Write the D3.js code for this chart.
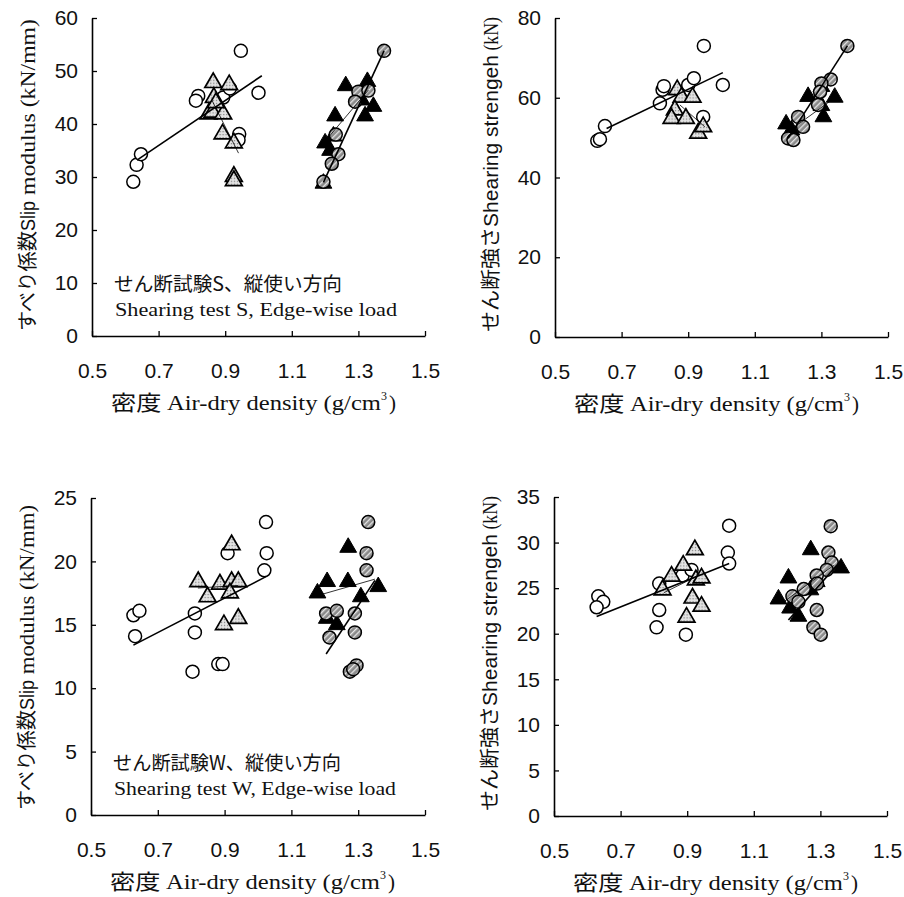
<!DOCTYPE html>
<html>
<head>
<meta charset="utf-8">
<script src="https://cdn.jsdelivr.net/npm/d3@7"></script>
<style>
  body { margin: 0; background: #fff; }
  svg { display: block; }
</style>
</head>
<body>
<div id="chart"></div>
<script>
// ---- data (density g/cm3, value) ----
var xTicks = [0.5, 0.7, 0.9, 1.1, 1.3, 1.5];

// panel A: slip modulus, shearing test S
var aOpenCircle = [[0.624,29.1],[0.634,32.3],[0.647,34.3],[0.819,45.3],[0.812,44.4],[0.894,45.0],[0.914,46.7],[0.947,53.8],[1.0,45.9],[0.942,38.1],[0.94,37.0]];
var aOpenTri = [[0.864,47.8],[0.912,47.4],[0.866,45.0],[0.85,41.9],[0.862,42.2],[0.894,41.9],[0.872,44.0],[0.892,38.1],[0.926,36.4],[0.926,30.1],[0.926,29.3]];
var aBlackTri = [[1.262,47.2],[1.327,48.0],[1.23,41.5],[1.225,37.7],[1.2,36.4],[1.32,41.5],[1.345,43.3],[1.31,44.5],[1.195,28.8],[1.215,35.0]];
var aHatchCircle = [[1.377,53.8],[1.30,46.1],[1.29,44.2],[1.33,46.3],[1.24,34.3],[1.22,32.5],[1.195,29.1],[1.232,38.0]];
var aLines = [
  {pts: [[0.635,33.2],[1.01,49.1]], w: 1.6},
  {pts: [[0.86,44.5],[0.94,34.5]], w: 0.8},
  {pts: [[1.195,29.0],[1.377,53.8]], w: 1.6},
  {pts: [[1.19,36.0],[1.33,46.4]], w: 0.8}
];

// panel B: shearing strength, shearing test S
var bOpenCircle = [[0.947,73.0],[0.627,49.2],[0.635,49.6],[0.65,52.9],[0.823,62.0],[0.827,62.9],[0.815,58.6],[0.9,63.2],[0.917,64.9],[1.004,63.2],[0.945,55.2]];
var bOpenTri = [[0.867,62.0],[0.88,60.1],[0.913,60.1],[0.86,56.9],[0.85,54.8],[0.893,54.8],[0.93,51.1],[0.945,52.7]];
var bBlackTri = [[1.26,60.3],[1.30,62.8],[1.34,60.1],[1.306,55.2],[1.194,53.4],[1.21,51.9],[1.30,58.0]];
var bHatchCircle = [[1.378,73.0],[1.328,64.6],[1.30,63.6],[1.296,61.5],[1.29,58.2],[1.23,55.2],[1.245,52.7],[1.20,49.8],[1.216,49.4]];
var bLines = [
  {pts: [[0.655,52.3],[1.004,66.3]], w: 1.6},
  {pts: [[0.875,58.2],[0.95,52.7]], w: 0.8},
  {pts: [[1.20,49.8],[1.378,73.0]], w: 1.6},
  {pts: [[1.20,51.5],[1.34,60.0]], w: 0.8}
];

// panel C: slip modulus, shearing test W
var cOpenCircle = [[1.024,23.1],[1.026,20.65],[1.019,19.3],[0.909,20.65],[0.811,15.9],[0.627,15.75],[0.645,16.1],[0.632,14.1],[0.811,14.4],[0.804,11.3],[0.881,11.9],[0.894,11.9]];
var cOpenTri = [[0.921,21.3],[0.821,18.4],[0.886,18.2],[0.921,18.4],[0.941,18.4],[0.849,17.2],[0.916,17.5],[0.898,15.0],[0.941,15.5]];
var cBlackTri = [[1.27,21.1],[1.207,18.4],[1.269,18.4],[1.36,18.0],[1.178,17.5],[1.308,17.2],[1.206,15.5],[1.236,15.0]];
var cHatchCircle = [[1.33,23.1],[1.325,20.65],[1.325,19.3],[1.204,15.9],[1.236,16.1],[1.29,15.9],[1.29,14.4],[1.214,14.0],[1.275,11.3],[1.295,11.8],[1.285,11.5]];
var cLines = [
  {pts: [[0.627,13.4],[1.024,18.8]], w: 1.6},
  {pts: [[0.82,17.9],[0.94,18.1]], w: 0.8},
  {pts: [[1.178,17.3],[1.35,18.6]], w: 0.8},
  {pts: [[1.204,12.7],[1.35,18.5]], w: 1.6}
];

// panel D: shearing strength, shearing test W
var dOpenCircle = [[1.026,31.85],[1.022,28.9],[1.026,27.7],[0.633,24.1],[0.648,23.5],[0.628,22.9],[0.816,25.5],[0.886,26.4],[0.913,27.0],[0.816,22.6],[0.808,20.7],[0.896,19.9]];
var dOpenTri = [[0.923,29.2],[0.888,27.5],[0.853,26.3],[0.926,25.9],[0.943,26.1],[0.826,24.8],[0.916,23.9],[0.943,23.0],[0.898,21.8]];
var dBlackTri = [[1.271,29.2],[1.204,26.1],[1.362,27.2],[1.174,23.8],[1.234,21.9],[1.289,25.7],[1.27,24.8],[1.209,22.8]];
var dHatchCircle = [[1.331,31.8],[1.324,28.9],[1.334,27.8],[1.319,27.0],[1.289,26.4],[1.216,24.1],[1.234,23.5],[1.289,22.6],[1.279,20.7],[1.301,19.9],[1.29,25.5],[1.25,24.9]];
var dLines = [
  {pts: [[0.628,21.9],[1.026,27.7]], w: 1.6},
  {pts: [[0.83,24.5],[0.94,26.5]], w: 0.8},
  {pts: [[1.204,21.5],[1.364,28.1]], w: 1.6},
  {pts: [[1.19,23.5],[1.34,27.5]], w: 0.8}
];

var panels = [
  {x0: 92, x1: 425, yTop: 18, yBot: 336, yTicks: [0,10,20,30,40,50,60], yMax: 60,
   yLabel: [["すべり係数", "ja", 100], ["Slip", "sans", 30], [" modulus (kN/mm)", "serif", 182]],
   note: ["せん断試験S、縦使い方向", "Shearing test S, Edge-wise load"],
   open: aOpenCircle, tri: aOpenTri, black: aBlackTri, hatch: aHatchCircle, lines: aLines},
  {x0: 555, x1: 888, yTop: 18, yBot: 337, yTicks: [0,20,40,60,80], yMax: 80,
   yLabel: [["せん断強さ", "ja", 105], ["Shearing strengeh", "sans", 172], [" (kN)", "serif", 38]],
   note: null,
   open: bOpenCircle, tri: bOpenTri, black: bBlackTri, hatch: bHatchCircle, lines: bLines},
  {x0: 91, x1: 425, yTop: 498, yBot: 815, yTicks: [0,5,10,15,20,25], yMax: 25,
   yLabel: [["すべり係数", "ja", 100], ["Slip", "sans", 30], [" modulus (kN/mm)", "serif", 175]],
   note: ["せん断試験W、縦使い方向", "Shearing test W, Edge-wise load"],
   open: cOpenCircle, tri: cOpenTri, black: cBlackTri, hatch: cHatchCircle, lines: cLines},
  {x0: 554, x1: 887, yTop: 497, yBot: 816, yTicks: [0,5,10,15,20,25,30,35], yMax: 35,
   yLabel: [["せん断強さ", "ja", 105], ["Shearing strengeh", "sans", 172], [" (kN)", "serif", 38]],
   note: null,
   open: dOpenCircle, tri: dOpenTri, black: dBlackTri, hatch: dHatchCircle, lines: dLines}
];

var fonts = {
  sans: "'Liberation Sans', Arial, sans-serif",
  serif: "'Liberation Serif', 'Noto Sans CJK JP', serif",
  ja: "'Noto Sans CJK JP', sans-serif"
};

var svg = d3.select("#chart").append("svg")
    .attr("width", 904)
    .attr("height", 897);

svg.append("rect").attr("width", 904).attr("height", 897).attr("fill", "#fff");

// fills for the gray triangles and hatched circles
var defs = svg.append("defs");
var stip = defs.append("pattern")
    .attr("id", "stipple")
    .attr("patternUnits", "userSpaceOnUse")
    .attr("width", 3).attr("height", 3);
stip.append("rect").attr("width", 3).attr("height", 3).attr("fill", "#e4e4e4");
stip.append("rect").attr("width", 1.2).attr("height", 1.2).attr("fill", "#7a7a7a");

var hatch = defs.append("pattern")
    .attr("id", "hatch")
    .attr("patternUnits", "userSpaceOnUse")
    .attr("width", 4).attr("height", 4)
    .attr("patternTransform", "rotate(45)");
hatch.append("rect").attr("width", 4).attr("height", 4).attr("fill", "#8a8a8a");
hatch.append("rect").attr("width", 1.3).attr("height", 4).attr("fill", "#e6e6e6");

var triPath = d3.symbol().type(d3.symbolTriangle).size(122)();

// place text pieces one after another, each squeezed/stretched to a target length
function runText(parent, pieces, size) {
  var t = parent.append("text").attr("font-size", size).attr("fill", "#111");
  var pos = 0;
  pieces.forEach(function(pc) {
    var s = t.append("tspan")
      .attr("font-family", fonts[pc[1]])
      .attr("x", pos)
      .text(pc[0]);
    if (pc[2]) s.attr("textLength", pc[2]).attr("lengthAdjust", "spacingAndGlyphs");
    pos += pc[2] || s.node().getComputedTextLength();
  });
  return t;
}

panels.forEach(function(p) {
  var x = d3.scaleLinear().domain([0.5, 1.5]).range([p.x0, p.x1]);
  var y = d3.scaleLinear().domain([0, p.yMax]).range([p.yBot, p.yTop]);

  var g = svg.append("g");

  var yAxis = d3.axisLeft(y)
    .tickValues(p.yTicks)
    .tickFormat(d3.format("d"))
    .tickSizeInner(-5)
    .tickSizeOuter(0)
    .tickPadding(14);

  var xAxis = d3.axisBottom(x)
    .tickValues(xTicks)
    .tickFormat(d3.format(".1f"))
    .tickSizeInner(-5)
    .tickSizeOuter(0)
    .tickPadding(27);

  var ya = g.append("g")
    .attr("transform", "translate(" + p.x0 + ",0)")
    .call(yAxis);
  var xa = g.append("g")
    .attr("transform", "translate(0," + p.yBot + ")")
    .call(xAxis);

  [ya, xa].forEach(function(a) {
    a.attr("font-family", fonts.sans).attr("font-size", 21);
    a.select(".domain").attr("stroke", "#000").attr("stroke-width", 1.6);
    a.selectAll(".tick line").attr("stroke", "#000").attr("stroke-width", 1.3);
    a.selectAll(".tick text").attr("fill", "#111");
  });

  // y axis title, reading bottom to top
  var yt = g.append("g")
    .attr("transform", "translate(" + (p.x0 - 64) + "," + (p.yBot - 5) + ") rotate(-90)");
  runText(yt, p.yLabel, 20).attr("dy", "0.35em");

  // x axis title
  var xt = g.append("g")
    .attr("transform", "translate(" + (p.x0 + 19) + "," + (p.yBot + 74) + ")");
  var xtext = runText(xt, [["密度 ", "ja", 56], ["Air-dry density (g/cm", "serif", 214]], 21);
  xtext.append("tspan").attr("font-family", fonts.serif).attr("font-size", 12)
    .attr("x", 270).attr("dy", -10).text("3");
  xtext.append("tspan").attr("font-family", fonts.serif)
    .attr("x", 278).attr("dy", 10).text(")");

  // note text
  if (p.note) {
    g.append("text")
      .attr("x", p.x0 + 22)
      .attr("y", y(0) - 45)
      .attr("font-family", fonts.ja)
      .attr("font-size", 19.5)
      .attr("fill", "#111")
      .attr("textLength", 228)
      .attr("lengthAdjust", "spacingAndGlyphs")
      .text(p.note[0]);
    g.append("text")
      .attr("x", p.x0 + 23)
      .attr("y", y(0) - 20)
      .attr("font-family", fonts.serif)
      .attr("font-size", 19)
      .attr("fill", "#111")
      .attr("textLength", 282)
      .attr("lengthAdjust", "spacingAndGlyphs")
      .text(p.note[1]);
  }

  // markers
  g.selectAll(".oc").data(p.open).enter().append("circle")
    .attr("cx", function(d) { return x(d[0]); })
    .attr("cy", function(d) { return y(d[1]); })
    .attr("r", 6.5)
    .attr("fill", "#fff")
    .attr("stroke", "#000")
    .attr("stroke-width", 1.5);

  g.selectAll(".ot").data(p.tri).enter().append("path")
    .attr("d", triPath)
    .attr("transform", function(d) { return "translate(" + x(d[0]) + "," + y(d[1]) + ")"; })
    .attr("fill", "url(#stipple)")
    .attr("stroke", "#000")
    .attr("stroke-width", 1.7);

  g.selectAll(".bt").data(p.black).enter().append("path")
    .attr("d", triPath)
    .attr("transform", function(d) { return "translate(" + x(d[0]) + "," + y(d[1]) + ")"; })
    .attr("fill", "#000")
    .attr("stroke", "#000")
    .attr("stroke-width", 1);

  g.selectAll(".hc").data(p.hatch).enter().append("circle")
    .attr("cx", function(d) { return x(d[0]); })
    .attr("cy", function(d) { return y(d[1]); })
    .attr("r", 6.5)
    .attr("fill", "url(#hatch)")
    .attr("stroke", "#000")
    .attr("stroke-width", 1.5);

  // regression lines
  var line = d3.line()
    .x(function(d) { return x(d[0]); })
    .y(function(d) { return y(d[1]); });

  g.selectAll(".reg").data(p.lines).enter().append("path")
    .attr("d", function(d) { return line(d.pts); })
    .attr("fill", "none")
    .attr("stroke", "#000")
    .attr("stroke-width", function(d) { return d.w; });
});
</script>
</body>
</html>
